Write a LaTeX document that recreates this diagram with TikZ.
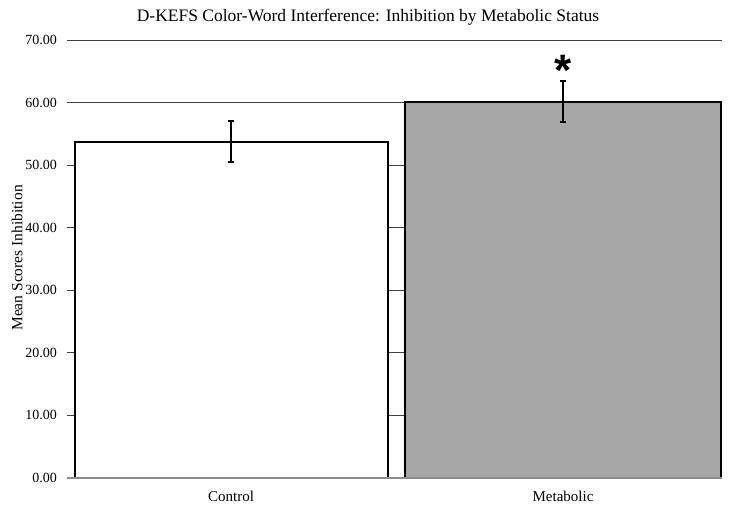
\documentclass[tikz,border=0pt]{standalone}
\usepackage{fontspec}
\setmainfont{Liberation Serif}
\newfontfamily\starfont{Liberation Sans}
\begin{document}
\begin{tikzpicture}[x=1pt,y=-1pt,
  grid/.style={draw=black!75,line width=0.9pt},
  barbox/.style={draw=black,line width=2pt},
  errbar/.style={draw=black,line width=1.5pt},
  ticklab/.style={anchor=east,font=\fontsize{14}{16}\selectfont,inner sep=0pt},
  catlab/.style={anchor=center,font=\fontsize{15}{17}\selectfont,inner sep=0pt}]
\fill[white] (0,0) rectangle (733,507);
\useasboundingbox (0,0) rectangle (733,507);
% gridlines
\foreach \v in {1,...,7}{
  \draw[grid] (67,{477.5-62.5*\v}) -- (722,{477.5-62.5*\v});
  \node[ticklab] (t\v) at (57,{477.5-62.5*\v}) {\v0.00};
}
\node[ticklab] (t0) at (57,477.5) {0.00};
% bars
\filldraw[barbox,fill=white] (74.5,477.5) rectangle (388,141.5);
\filldraw[barbox,fill=black!35] (404.5,477.5) rectangle (721,101.5);
\draw[draw=black!45,line width=2pt] (67,477.5) -- (722,477.5);
% error bars
\draw[errbar] (231,121) -- (231,162);
\draw[errbar] (228,121) -- (234,121);
\draw[errbar] (228,162) -- (234,162);
\draw[errbar] (563,81) -- (563,122);
\draw[errbar] (560,81) -- (566,81);
\draw[errbar] (560,122) -- (566,122);
\node[font=\starfont\bfseries\fontsize{44}{46}\selectfont,inner sep=0pt] (star) at (563,70) {*};
% labels
\node[catlab] (c1) at (231,496) {Control};
\node[catlab] (c2) at (563,496) {Metabolic};
\node[font=\fontsize{17.5}{20}\selectfont,inner sep=0pt] (title) at (368,17) {D-KEFS Color-Word Interference: Inhibition by Metabolic Status};
\node[font=\fontsize{15.5}{18}\selectfont,inner sep=0pt,rotate=90] (ylab) at (17,258) {Mean Scores Inhibition};
\end{tikzpicture}
\end{document}
